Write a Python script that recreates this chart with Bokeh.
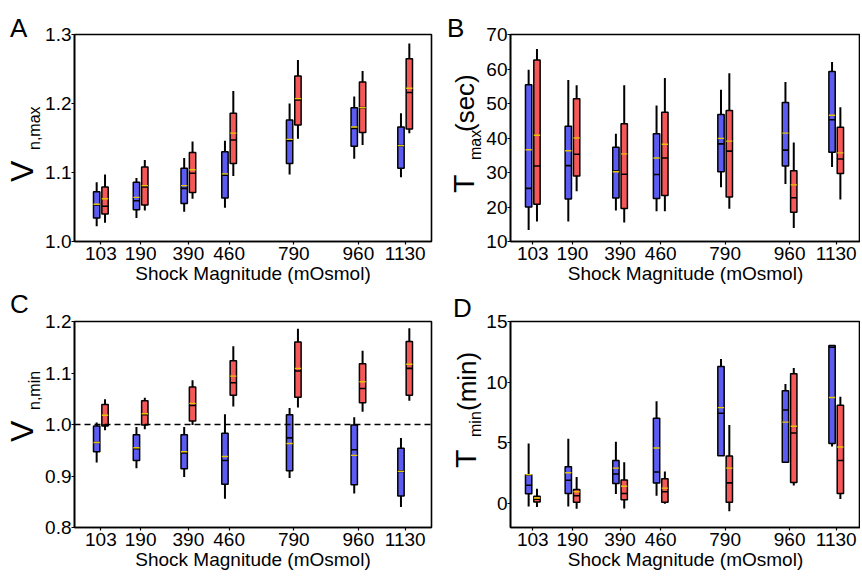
import math
from bokeh.plotting import figure
from bokeh.models import Span, FixedTicker, Range1d, ColumnDataSource, Div
from bokeh.layouts import column, row
from bokeh.embed import file_html
from bokeh.resources import INLINE

# ---------------- data ----------------
shocks = ["103", "190", "390", "460", "790", "960", "1130"]
x_pos = [0, 40, 88, 129, 194, 259, 306]  # axis positions of the shock categories

# Panel A : V n,max
a_blue_wlo = [1.022, 1.034, 1.043, 1.049, 1.097, 1.120, 1.093]
a_blue_q1 = [1.034, 1.046, 1.055, 1.063, 1.113, 1.138, 1.106]
a_blue_med = [1.053, 1.059, 1.077, 1.096, 1.146, 1.164, 1.139]
a_blue_mean = [1.054, 1.064, 1.081, 1.098, 1.148, 1.166, 1.139]
a_blue_q3 = [1.072, 1.086, 1.106, 1.130, 1.176, 1.194, 1.166]
a_blue_whi = [1.086, 1.092, 1.121, 1.146, 1.200, 1.210, 1.186]

a_red_wlo = [1.027, 1.045, 1.062, 1.095, 1.149, 1.140, 1.157]
a_red_q1 = [1.040, 1.053, 1.071, 1.113, 1.169, 1.158, 1.163]
a_red_med = [1.051, 1.079, 1.099, 1.147, 1.205, 1.194, 1.216]
a_red_mean = [1.062, 1.081, 1.104, 1.157, 1.207, 1.194, 1.222]
a_red_q3 = [1.079, 1.108, 1.129, 1.186, 1.240, 1.231, 1.265]
a_red_whi = [1.097, 1.118, 1.145, 1.218, 1.263, 1.247, 1.287]

# Panel B : T max (sec)
b_blue_wlo = [13.3, 15.8, 19.0, 18.8, 25.7, 26.7, 31.6]
b_blue_q1 = [20.0, 22.3, 22.6, 22.5, 30.2, 31.9, 35.9]
b_blue_med = [25.4, 32.0, 30.4, 29.4, 38.3, 36.5, 45.3]
b_blue_mean = [36.6, 36.3, 30.2, 34.2, 39.9, 41.4, 46.6]
b_blue_q3 = [55.4, 43.4, 37.3, 41.2, 46.8, 50.3, 59.3]
b_blue_whi = [59.8, 56.8, 41.2, 49.4, 54.0, 56.2, 62.0]

b_red_wlo = [15.8, 24.6, 15.5, 18.8, 19.5, 13.9, 22.2]
b_red_q1 = [20.8, 29.0, 19.6, 23.3, 22.9, 18.5, 29.7]
b_red_med = [31.9, 35.3, 29.5, 34.2, 36.2, 22.7, 33.9]
b_red_mean = [40.8, 40.0, 35.4, 38.2, 39.1, 26.4, 35.7]
b_red_q3 = [62.6, 51.4, 44.1, 47.5, 48.0, 30.5, 43.1]
b_red_whi = [65.8, 55.3, 55.3, 57.4, 58.8, 38.7, 48.9]

# Panel C : V n,min
c_blue_wlo = [0.926, 0.915, 0.898, 0.856, 0.896, 0.866, 0.840]
c_blue_q1 = [0.947, 0.930, 0.914, 0.884, 0.910, 0.883, 0.861]
c_blue_med = [0.965, 0.953, 0.945, 0.930, 0.974, 0.951, 0.909]
c_blue_mean = [0.965, 0.955, 0.947, 0.938, 0.963, 0.940, 0.909]
c_blue_q3 = [0.997, 0.980, 0.980, 0.983, 1.019, 0.999, 0.954]
c_blue_whi = [1.004, 0.995, 0.995, 1.020, 1.032, 1.014, 0.974]

c_red_wlo = [0.989, 0.991, 0.999, 1.035, 1.033, 1.025, 1.046]
c_red_q1 = [0.997, 0.999, 1.007, 1.057, 1.053, 1.042, 1.057]
c_red_med = [0.999, 1.019, 1.037, 1.081, 1.104, 1.070, 1.109]
c_red_mean = [1.018, 1.021, 1.041, 1.094, 1.109, 1.083, 1.117]
c_red_q3 = [1.039, 1.046, 1.073, 1.124, 1.160, 1.118, 1.161]
c_red_whi = [1.049, 1.052, 1.086, 1.152, 1.186, 1.143, 1.187]

# Panel D : T min (min)
d_blue_wlo = [-0.27, -0.27, 0.76, 0.62, 3.90, 3.39, 4.69]
d_blue_q1 = [0.79, 0.81, 1.63, 1.68, 3.93, 3.39, 4.94]
d_blue_med = [1.49, 1.90, 2.41, 2.58, 7.43, 7.70, 12.88]
d_blue_mean = [2.36, 2.52, 2.90, 4.56, 7.89, 6.70, 8.73]
d_blue_q3 = [2.36, 3.01, 3.53, 7.02, 11.28, 9.28, 13.02]
d_blue_whi = [4.94, 5.32, 5.07, 8.41, 11.90, 9.85, 13.07]

d_red_wlo = [-0.30, -0.46, -0.43, -0.05, -0.65, 1.46, 0.35]
d_red_q1 = [0.11, 0.08, 0.30, 0.08, 0.08, 1.71, 0.81]
d_red_med = [0.33, 0.62, 0.81, 0.95, 1.68, 5.80, 3.53]
d_red_mean = [0.43, 0.95, 1.41, 1.25, 2.90, 6.35, 4.64]
d_red_q3 = [0.57, 1.14, 1.93, 2.03, 3.91, 10.69, 8.08]
d_red_whi = [1.19, 2.17, 3.39, 2.63, 6.46, 11.17, 8.79]

a_ticks = [1.0, 1.1, 1.2, 1.3]
b_ticks = [10, 20, 30, 40, 50, 60, 70]
c_ticks = [0.8, 0.9, 1.0, 1.1, 1.2]
d_ticks = [0, 5, 10, 15]
x_title = "Shock Magnitude (mOsmol)"

# ---------------- style ----------------
FONT = "Liberation Sans"
BLUE = "#5c5cf2"
RED = "#f55858"
MEAN = "#e8c400"
OFF = 4.2
BW = 6.4
ASC = 0.8465  # baseline offset (in em) inside a line box of line-height 1


def add_series(p, dx, color, wlo, q1, med, mean, q3, whi):
    xs = [x + dx for x in x_pos]
    src = ColumnDataSource(dict(x=xs, x0=[x - BW / 2 for x in xs], x1=[x + BW / 2 for x in xs],
                                wlo=wlo, q1=q1, med=med, mean=mean, q3=q3, whi=whi))
    p.segment(x0="x", y0="wlo", x1="x", y1="q1", source=src, line_color="black", line_width=2)
    p.segment(x0="x", y0="q3", x1="x", y1="whi", source=src, line_color="black", line_width=2)
    p.vbar(x="x", width=BW, bottom="q1", top="q3", source=src, fill_color=color,
           line_color="black", line_width=1.5)
    p.segment(x0="x0", y0="med", x1="x1", y1="med", source=src, line_color="black", line_width=1.6)
    p.segment(x0="x0", y0="mean", x1="x1", y1="mean", source=src, line_color=MEAN, line_width=1.4)


def panel(width, height, bl, br, bt, bb, xr, yr, yticks, ylabels):
    p = figure(width=width, height=height, output_backend="svg", toolbar_location=None,
               x_range=Range1d(*xr), y_range=Range1d(*yr),
               min_border_left=bl, min_border_right=br, min_border_top=bt, min_border_bottom=bb)
    p.xgrid.visible = False
    p.ygrid.visible = False
    p.outline_line_color = "black"
    p.outline_line_width = 1.6
    p.background_fill_color = "white"
    p.border_fill_color = "white"
    for ax in (p.xaxis[0], p.yaxis[0]):
        ax.axis_line_color = "black"
        ax.axis_line_width = 1.6
        ax.major_tick_line_color = "black"
        ax.major_tick_line_width = 1.2
        ax.major_tick_in = 0
        ax.minor_tick_line_color = None
        ax.major_label_text_font = FONT
        ax.major_label_text_font_size = "19px"
        ax.major_label_text_color = "black"
    p.xaxis.ticker = FixedTicker(ticks=x_pos)
    p.xaxis.major_label_overrides = {x: s for x, s in zip(x_pos, shocks)}
    p.xaxis.major_tick_out = 3
    p.xaxis.major_label_standoff = 2
    p.xaxis.axis_label = x_title
    p.xaxis.axis_label_text_font = FONT
    p.xaxis.axis_label_text_font_size = "19px"
    p.xaxis.axis_label_text_font_style = "normal"
    p.xaxis.axis_label_text_color = "black"
    p.xaxis.axis_label_standoff = 0
    p.yaxis.ticker = FixedTicker(ticks=yticks)
    p.yaxis.major_label_overrides = {t: l for t, l in zip(yticks, ylabels)}
    p.yaxis.major_tick_out = 3
    p.yaxis.major_label_standoff = 0
    return p


def label_column(width, height, x0, y0, items):
    """HTML column left of a panel holding the panel letter and the rotated y title.
    items: (text, x, y, size, rotated) in page pixels; x,y = baseline start of the text."""
    spans = []
    for text, x, y, size, rot in items:
        asc = ASC * size
        base = (f"position:absolute;font-family:'{FONT}';font-size:{size}px;line-height:1;"
                f"white-space:nowrap;color:#000;margin:0;padding:0;")
        if rot:
            st = (f"left:{x - x0 - asc:.1f}px;top:{y - y0:.1f}px;"
                  f"transform:rotate(-90deg);transform-origin:0 0;")
        else:
            st = f"left:{x - x0:.1f}px;top:{y - y0 - asc:.1f}px;"
        spans.append(f'<span style="{base}{st}">{text}</span>')
    html = (f'<div style="position:relative;width:{width}px;height:{height}px;'
            f'overflow:visible;margin:0;padding:0;">' + "".join(spans) + "</div>")
    return Div(text=html, width=width, height=height,
               styles={"margin": "0", "padding": "0", "overflow": "visible"})


# ---------------- panel A ----------------
dA = label_column(42, 290, 0, 0, [("A", 10, 37, 26, False),
                                  ("V", 33, 182, 32, True),
                                  ("n,max", 40, 150, 16, True)])
pA = panel(391, 290, 30, 2, 34, 47, (-26.5, 332.5), (1.0, 1.3), a_ticks,
           ["1.0", "1.1", "1.2", "1.3"])
add_series(pA, -OFF, BLUE, a_blue_wlo, a_blue_q1, a_blue_med, a_blue_mean, a_blue_q3, a_blue_whi)
add_series(pA, OFF, RED, a_red_wlo, a_red_q1, a_red_med, a_red_mean, a_red_q3, a_red_whi)

# ---------------- panel B ----------------
dB = label_column(50, 290, 433, 0, [("B", 447, 37, 26, False),
                                    ("T", 474, 193, 30, True),
                                    ("max", 481, 160, 16, True),
                                    ("(sec)", 474, 132, 26, True)])
pB = panel(377, 290, 24, 0, 32, 49, (-22.5, 330.5), (10, 70), b_ticks,
           [str(t) for t in b_ticks])
add_series(pB, -OFF, BLUE, b_blue_wlo, b_blue_q1, b_blue_med, b_blue_mean, b_blue_q3, b_blue_whi)
add_series(pB, OFF, RED, b_red_wlo, b_red_q1, b_red_med, b_red_mean, b_red_q3, b_red_whi)

# ---------------- panel C ----------------
dC = label_column(42, 288, 0, 290, [("C", 10, 313, 26, False),
                                    ("V", 33, 442, 32, True),
                                    ("n,min", 40, 410, 16, True)])
pC = panel(391, 288, 30, 2, 31, 48, (-26.5, 332.5), (0.8, 1.2), c_ticks,
           ["0.8", "0.9", "1.0", "1.1", "1.2"])
add_series(pC, -OFF, BLUE, c_blue_wlo, c_blue_q1, c_blue_med, c_blue_mean, c_blue_q3, c_blue_whi)
add_series(pC, OFF, RED, c_red_wlo, c_red_q1, c_red_med, c_red_mean, c_red_q3, c_red_whi)
pC.add_layout(Span(location=1.0, dimension="width", line_color="black", line_width=1.5,
                   line_dash="6 4"))

# ---------------- panel D ----------------
dD = label_column(50, 288, 433, 290, [("D", 453, 317, 26, False),
                                      ("T", 476, 468, 30, True),
                                      ("min", 481, 437, 16, True),
                                      ("(min)", 476, 411, 26, True)])
pD = panel(377, 288, 24, 0, 29, 51, (-22.5, 330.5), (-2, 15), d_ticks,
           [str(t) for t in d_ticks])
add_series(pD, -OFF, BLUE, d_blue_wlo, d_blue_q1, d_blue_med, d_blue_mean, d_blue_q3, d_blue_whi)
add_series(pD, OFF, RED, d_red_wlo, d_red_q1, d_red_med, d_red_mean, d_red_q3, d_red_whi)

layout = column(row(dA, pA, dB, pB), row(dC, pC, dD, pD))
open("out.html", "w").write(file_html(layout, INLINE))
